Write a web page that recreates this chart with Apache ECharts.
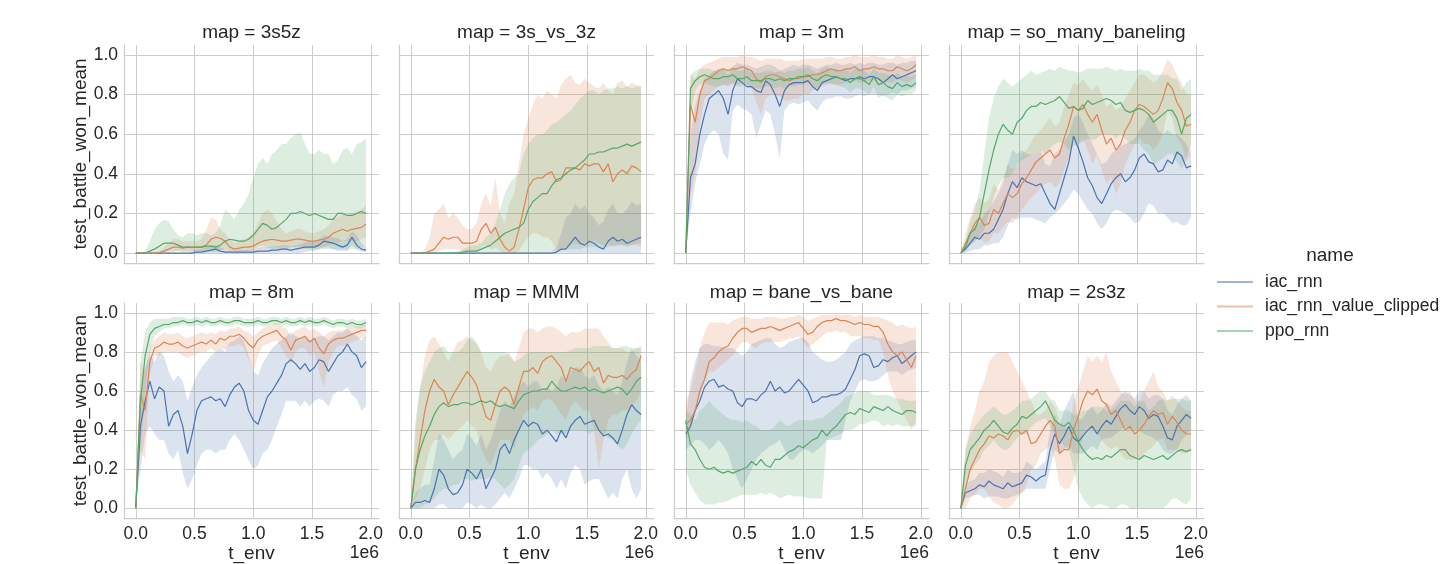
<!DOCTYPE html>
<html>
<head>
<meta charset="utf-8">
<script src="https://cdn.jsdelivr.net/npm/echarts@6/dist/echarts.min.js"></script>
<style>
  html, body { margin: 0; padding: 0; background: #fff; }
  #chart { width: 1455px; height: 564px; }
</style>
</head>
<body>
<div id="chart"></div>
<script>
// t_env in units of 1e6
const T_ENV = [0, 0.04, 0.08, 0.12, 0.16, 0.2, 0.24, 0.28, 0.32, 0.36,
  0.4, 0.44, 0.48, 0.52, 0.56, 0.6, 0.64, 0.68, 0.72, 0.76,
  0.8, 0.84, 0.88, 0.92, 0.96, 1.0, 1.04, 1.08, 1.12, 1.16,
  1.2, 1.24, 1.28, 1.32, 1.36, 1.4, 1.44, 1.48, 1.52, 1.56,
  1.6, 1.64, 1.68, 1.72, 1.76, 1.8, 1.84, 1.88, 1.92, 1.96]
const MAPS = ['3s5z', '3s_vs_3z', '3m', 'so_many_baneling', '8m', 'MMM', 'bane_vs_bane', '2s3z']
const RUNS = ['iac_rnn', 'iac_rnn_value_clipped', 'ppo_rnn']
const X_TICKS = [0, 0.5, 1, 1.5, 2]
const Y_TICKS = [0, 0.2, 0.4, 0.6, 0.8, 1.0]

// ---- map = 3s5z
const iac_3s5z = [0, 0, 0, 0, 0, 0, 0, 0, 0, 0,
  0, 0, 0, 0.005, 0.005, 0.01, 0.015, 0.02, 0.01, 0.005,
  0.005, 0.005, 0.005, 0.005, 0.005, 0.005, 0.01, 0.01, 0.01, 0.015,
  0.015, 0.02, 0.02, 0.015, 0.02, 0.025, 0.03, 0.03, 0.03, 0.04,
  0.06, 0.055, 0.05, 0.04, 0.03, 0.04, 0.08, 0.04, 0.02, 0.015]
const iac_3s5z_lo = [0, 0, 0, 0, 0, 0, 0, 0, 0, 0,
  0, 0, 0, 0, 0, 0, 0, 0, 0, 0,
  0, 0, 0, 0, 0, 0, 0, 0, 0, 0,
  0, 0, 0, 0, 0, 0, 0.005, 0.01, 0.01, 0.02,
  0.03, 0.03, 0.02, 0.01, 0.01, 0.01, 0.04, 0.02, 0.005, 0.005]
const iac_3s5z_hi = [0, 0, 0, 0, 0, 0, 0, 0, 0, 0,
  0, 0, 0.01, 0.02, 0.02, 0.03, 0.04, 0.04, 0.03, 0.02,
  0.02, 0.02, 0.015, 0.015, 0.015, 0.02, 0.025, 0.03, 0.03, 0.035,
  0.035, 0.04, 0.04, 0.035, 0.04, 0.045, 0.055, 0.06, 0.06, 0.07,
  0.09, 0.085, 0.08, 0.075, 0.06, 0.07, 0.11, 0.09, 0.05, 0.03]
const clip_3s5z = [0, 0, 0, 0, 0, 0.003, 0.01, 0.02, 0.03, 0.03,
  0.025, 0.03, 0.028, 0.03, 0.03, 0.04, 0.07, 0.08, 0.075, 0.06,
  0.03, 0.02, 0.025, 0.03, 0.03, 0.035, 0.05, 0.06, 0.065, 0.07,
  0.065, 0.06, 0.06, 0.065, 0.07, 0.07, 0.065, 0.06, 0.06, 0.065,
  0.07, 0.08, 0.1, 0.11, 0.12, 0.11, 0.12, 0.125, 0.13, 0.145]
const clip_3s5z_lo = [0, 0, 0, 0, 0, 0, 0, 0, 0.005, 0.01,
  0.01, 0.01, 0.01, 0.01, 0.01, 0.015, 0.02, 0.02, 0.02, 0.02,
  0.01, 0.005, 0.005, 0.01, 0.01, 0.01, 0.02, 0.025, 0.025, 0.03,
  0.03, 0.03, 0.03, 0.03, 0.03, 0.035, 0.03, 0.03, 0.03, 0.03,
  0.03, 0.04, 0.05, 0.05, 0.06, 0.06, 0.06, 0.06, 0.07, 0.08]
const clip_3s5z_hi = [0, 0, 0, 0, 0, 0.01, 0.03, 0.05, 0.07, 0.07,
  0.06, 0.06, 0.06, 0.06, 0.07, 0.12, 0.18, 0.17, 0.12, 0.1,
  0.07, 0.05, 0.06, 0.07, 0.08, 0.1, 0.15, 0.2, 0.22, 0.2,
  0.16, 0.12, 0.1, 0.11, 0.12, 0.12, 0.11, 0.1, 0.1, 0.11,
  0.12, 0.14, 0.17, 0.18, 0.2, 0.19, 0.2, 0.21, 0.22, 0.24]
const ppo_3s5z = [0, 0, 0, 0.01, 0.02, 0.035, 0.05, 0.05, 0.05, 0.04,
  0.03, 0.03, 0.03, 0.03, 0.03, 0.035, 0.035, 0.03, 0.04, 0.06,
  0.07, 0.065, 0.06, 0.06, 0.07, 0.09, 0.12, 0.15, 0.14, 0.12,
  0.13, 0.15, 0.17, 0.2, 0.2, 0.21, 0.2, 0.19, 0.2, 0.19,
  0.18, 0.17, 0.17, 0.2, 0.2, 0.19, 0.19, 0.2, 0.21, 0.2]
const ppo_3s5z_lo = [0, 0, 0, 0, 0, 0, 0.005, 0.01, 0.01, 0.01,
  0.005, 0.005, 0.005, 0.005, 0.005, 0.005, 0.005, 0.005, 0.01, 0.02,
  0.02, 0.02, 0.01, 0.01, 0.01, 0.02, 0.03, 0.04, 0.03, 0.02,
  0.02, 0.02, 0.02, 0.03, 0.03, 0.03, 0.02, 0.02, 0.02, 0.02,
  0.02, 0.02, 0.02, 0.02, 0.02, 0.02, 0.02, 0.02, 0.03, 0.03]
const ppo_3s5z_hi = [0, 0, 0.01, 0.06, 0.12, 0.15, 0.17, 0.16, 0.12, 0.09,
  0.08, 0.1, 0.1, 0.09, 0.1, 0.1, 0.09, 0.1, 0.14, 0.22,
  0.2, 0.17, 0.22, 0.25, 0.3, 0.38, 0.45, 0.48, 0.45, 0.5,
  0.52, 0.55, 0.55, 0.58, 0.6, 0.61, 0.55, 0.5, 0.5, 0.52,
  0.5, 0.5, 0.45, 0.47, 0.52, 0.53, 0.5, 0.55, 0.56, 0.58]

// ---- map = 3s_vs_3z
const iac_3svs3z = [0, 0, 0, 0, 0, 0, 0, 0, 0, 0,
  0, 0, 0, 0, 0, 0, 0, 0, 0, 0,
  0, 0, 0, 0, 0, 0, 0, 0, 0, 0,
  0, 0.005, 0.02, 0.02, 0.05, 0.08, 0.05, 0.04, 0.06, 0.05,
  0.03, 0.02, 0.06, 0.08, 0.06, 0.07, 0.05, 0.06, 0.07, 0.08]
const iac_3svs3z_lo = [0, 0, 0, 0, 0, 0, 0, 0, 0, 0,
  0, 0, 0, 0, 0, 0, 0, 0, 0, 0,
  0, 0, 0, 0, 0, 0, 0, 0, 0, 0,
  0, 0, 0, 0, 0, 0, 0, 0, 0, 0,
  0, 0, 0, 0, 0, 0, 0, 0, 0, 0]
const iac_3svs3z_hi = [0, 0, 0, 0, 0, 0, 0, 0, 0, 0,
  0, 0, 0, 0, 0, 0, 0, 0, 0, 0,
  0, 0, 0, 0, 0, 0, 0, 0, 0, 0,
  0.01, 0.03, 0.1, 0.18, 0.2, 0.25, 0.22, 0.24, 0.2, 0.18,
  0.14, 0.16, 0.22, 0.25, 0.2, 0.2, 0.22, 0.26, 0.24, 0.25]
const clip_3svs3z = [0, 0, 0, 0, 0.01, 0.02, 0.05, 0.08, 0.07, 0.08,
  0.08, 0.05, 0.05, 0.05, 0.06, 0.12, 0.15, 0.1, 0.13, 0.07,
  0.03, 0.01, 0.03, 0.12, 0.22, 0.33, 0.37, 0.38, 0.38, 0.4,
  0.41, 0.36, 0.37, 0.43, 0.43, 0.43, 0.42, 0.45, 0.44, 0.45,
  0.45, 0.41, 0.45, 0.36, 0.4, 0.42, 0.4, 0.44, 0.43, 0.41]
const clip_3svs3z_lo = [0, 0, 0, 0, 0, 0, 0.01, 0.02, 0.02, 0.02,
  0.02, 0.01, 0.01, 0.01, 0.01, 0.03, 0.04, 0.02, 0.03, 0.01,
  0, 0, 0, 0.01, 0.05, 0.08, 0.1, 0.1, 0.08, 0.08,
  0.06, 0.02, 0.02, 0.03, 0.04, 0.05, 0.04, 0.05, 0.05, 0.06,
  0.05, 0.04, 0.05, 0.03, 0.04, 0.04, 0.03, 0.04, 0.04, 0.03]
const clip_3svs3z_hi = [0, 0, 0, 0.02, 0.08, 0.2, 0.22, 0.25, 0.18, 0.2,
  0.18, 0.14, 0.12, 0.12, 0.15, 0.25, 0.3, 0.24, 0.38, 0.2,
  0.15, 0.25, 0.3, 0.45, 0.6, 0.68, 0.75, 0.8, 0.78, 0.82,
  0.8, 0.78, 0.85, 0.88, 0.9, 0.86, 0.85, 0.88, 0.86, 0.84,
  0.83, 0.86, 0.82, 0.8, 0.86, 0.87, 0.84, 0.86, 0.85, 0.84]
const ppo_3svs3z = [0, 0, 0, 0, 0, 0, 0, 0, 0, 0,
  0, 0.005, 0.01, 0.01, 0.01, 0.02, 0.03, 0.04, 0.06, 0.08,
  0.1, 0.11, 0.12, 0.13, 0.15, 0.22, 0.26, 0.28, 0.3, 0.3,
  0.34, 0.37, 0.38, 0.4, 0.42, 0.43, 0.45, 0.47, 0.5, 0.5,
  0.51, 0.51, 0.52, 0.53, 0.53, 0.54, 0.55, 0.54, 0.55, 0.56]
const ppo_3svs3z_lo = [0, 0, 0, 0, 0, 0, 0, 0, 0, 0,
  0, 0, 0, 0, 0, 0, 0, 0, 0, 0,
  0, 0, 0, 0, 0, 0, 0, 0, 0, 0,
  0.01, 0.01, 0.02, 0.02, 0.02, 0.02, 0.02, 0.03, 0.03, 0.03,
  0.03, 0.03, 0.03, 0.04, 0.04, 0.04, 0.04, 0.04, 0.05, 0.05]
const ppo_3svs3z_hi = [0, 0, 0, 0, 0, 0, 0, 0, 0, 0.005,
  0.01, 0.02, 0.03, 0.04, 0.04, 0.05, 0.08, 0.1, 0.15, 0.22,
  0.3, 0.35, 0.38, 0.4, 0.5, 0.55, 0.58, 0.6, 0.6, 0.62,
  0.65, 0.66, 0.68, 0.7, 0.72, 0.75, 0.78, 0.8, 0.82, 0.82,
  0.8, 0.82, 0.83, 0.83, 0.84, 0.83, 0.84, 0.83, 0.84, 0.84]

// ---- map = 3m
const iac_3m = [0, 0.38, 0.45, 0.6, 0.7, 0.78, 0.8, 0.82, 0.78, 0.7,
  0.82, 0.88, 0.86, 0.84, 0.84, 0.82, 0.81, 0.87, 0.85, 0.8,
  0.74, 0.82, 0.85, 0.86, 0.86, 0.86, 0.87, 0.84, 0.82, 0.86,
  0.87, 0.88, 0.89, 0.88, 0.87, 0.88, 0.88, 0.89, 0.88, 0.89,
  0.89, 0.88, 0.86, 0.88, 0.9, 0.88, 0.89, 0.9, 0.91, 0.92]
const iac_3m_lo = [0, 0.2, 0.35, 0.45, 0.55, 0.6, 0.62, 0.6, 0.5, 0.47,
  0.72, 0.75, 0.73, 0.72, 0.7, 0.58, 0.65, 0.72, 0.7, 0.6,
  0.48, 0.72, 0.75, 0.76, 0.75, 0.76, 0.77, 0.74, 0.72, 0.76,
  0.78, 0.78, 0.79, 0.79, 0.78, 0.78, 0.79, 0.8, 0.79, 0.8,
  0.8, 0.8, 0.79, 0.8, 0.81, 0.8, 0.82, 0.82, 0.83, 0.84]
const iac_3m_hi = [0, 0.6, 0.75, 0.82, 0.88, 0.9, 0.92, 0.93, 0.93, 0.9,
  0.94, 0.96, 0.95, 0.95, 0.94, 0.93, 0.94, 0.95, 0.95, 0.94,
  0.92, 0.93, 0.94, 0.95, 0.94, 0.95, 0.95, 0.94, 0.93, 0.94,
  0.95, 0.95, 0.96, 0.95, 0.95, 0.96, 0.95, 0.96, 0.95, 0.96,
  0.96, 0.95, 0.95, 0.96, 0.96, 0.95, 0.96, 0.96, 0.97, 0.97]
const clip_3m = [0, 0.75, 0.66, 0.8, 0.87, 0.88, 0.9, 0.92, 0.93, 0.92,
  0.93, 0.93, 0.94, 0.93, 0.92, 0.88, 0.86, 0.89, 0.9, 0.9,
  0.89, 0.88, 0.87, 0.88, 0.88, 0.89, 0.89, 0.9, 0.9, 0.91,
  0.92, 0.93, 0.92, 0.92, 0.93, 0.93, 0.94, 0.92, 0.93, 0.93,
  0.94, 0.93, 0.93, 0.92, 0.92, 0.94, 0.93, 0.92, 0.93, 0.95]
const clip_3m_lo = [0, 0.3, 0.4, 0.65, 0.78, 0.8, 0.82, 0.84, 0.85, 0.84,
  0.85, 0.85, 0.86, 0.85, 0.83, 0.76, 0.7, 0.78, 0.8, 0.8,
  0.79, 0.77, 0.77, 0.78, 0.78, 0.8, 0.8, 0.82, 0.83, 0.84,
  0.85, 0.86, 0.85, 0.85, 0.86, 0.86, 0.87, 0.86, 0.86, 0.87,
  0.87, 0.87, 0.86, 0.86, 0.86, 0.88, 0.87, 0.86, 0.87, 0.89]
const clip_3m_hi = [0, 0.9, 0.88, 0.93, 0.95, 0.96, 0.97, 0.98, 0.99, 0.99,
  0.99, 0.99, 1.0, 0.99, 0.99, 0.98, 0.97, 0.98, 0.98, 0.98,
  0.98, 0.97, 0.97, 0.97, 0.97, 0.98, 0.98, 0.98, 0.98, 0.98,
  0.99, 0.99, 0.98, 0.98, 0.99, 0.99, 1.0, 0.99, 0.99, 0.99,
  1.0, 0.99, 0.99, 0.98, 0.98, 1.0, 0.99, 0.98, 0.99, 1.0]
const ppo_3m = [0, 0.83, 0.87, 0.89, 0.9, 0.89, 0.88, 0.88, 0.89, 0.89,
  0.9, 0.88, 0.88, 0.89, 0.87, 0.87, 0.87, 0.88, 0.88, 0.87,
  0.88, 0.87, 0.88, 0.88, 0.89, 0.89, 0.9, 0.88, 0.87, 0.89,
  0.9, 0.89, 0.89, 0.88, 0.88, 0.86, 0.88, 0.88, 0.87, 0.85,
  0.89, 0.85, 0.86, 0.84, 0.83, 0.86, 0.84, 0.85, 0.84, 0.86]
const ppo_3m_lo = [0, 0.7, 0.82, 0.85, 0.86, 0.85, 0.84, 0.84, 0.85, 0.85,
  0.86, 0.84, 0.84, 0.85, 0.83, 0.83, 0.83, 0.84, 0.84, 0.83,
  0.84, 0.83, 0.84, 0.84, 0.85, 0.85, 0.86, 0.84, 0.83, 0.85,
  0.86, 0.85, 0.85, 0.84, 0.83, 0.81, 0.83, 0.83, 0.82, 0.8,
  0.84, 0.78, 0.8, 0.78, 0.77, 0.8, 0.79, 0.8, 0.8, 0.82]
const ppo_3m_hi = [0, 0.9, 0.92, 0.93, 0.93, 0.93, 0.92, 0.92, 0.93, 0.93,
  0.94, 0.92, 0.92, 0.93, 0.91, 0.91, 0.91, 0.92, 0.92, 0.91,
  0.92, 0.91, 0.92, 0.92, 0.93, 0.93, 0.94, 0.92, 0.91, 0.93,
  0.94, 0.93, 0.93, 0.92, 0.93, 0.91, 0.93, 0.93, 0.92, 0.9,
  0.93, 0.91, 0.91, 0.9, 0.89, 0.91, 0.89, 0.9, 0.89, 0.9]

// ---- map = so_many_baneling
const iac_smb = [0, 0.02, 0.05, 0.08, 0.07, 0.1, 0.1, 0.12, 0.17, 0.22,
  0.3, 0.36, 0.33, 0.38, 0.36, 0.35, 0.34, 0.35, 0.3, 0.25,
  0.22, 0.3, 0.38, 0.46, 0.59, 0.53, 0.46, 0.38, 0.34, 0.28,
  0.25, 0.3, 0.35, 0.38, 0.4, 0.36, 0.38, 0.42, 0.48, 0.5,
  0.46, 0.45, 0.41, 0.42, 0.47, 0.45, 0.51, 0.49, 0.43, 0.44]
const iac_smb_lo = [0, 0, 0.01, 0.02, 0.02, 0.04, 0.04, 0.05, 0.05, 0.08,
  0.14, 0.18, 0.17, 0.18, 0.18, 0.18, 0.17, 0.16, 0.15, 0.18,
  0.2, 0.22, 0.25, 0.28, 0.32, 0.3, 0.26, 0.22, 0.2, 0.15,
  0.12, 0.15, 0.2, 0.22, 0.21, 0.2, 0.18, 0.15, 0.16, 0.2,
  0.25, 0.24, 0.2, 0.2, 0.18, 0.15, 0.16, 0.14, 0.14, 0.18]
const iac_smb_hi = [0, 0.05, 0.1, 0.14, 0.15, 0.2, 0.22, 0.26, 0.3, 0.35,
  0.45, 0.52, 0.5, 0.52, 0.5, 0.5, 0.5, 0.52, 0.45, 0.44,
  0.5, 0.52, 0.56, 0.6, 0.68, 0.7, 0.66, 0.6, 0.55, 0.5,
  0.45, 0.46, 0.5, 0.52, 0.54, 0.55, 0.56, 0.58, 0.62, 0.65,
  0.7, 0.68, 0.62, 0.6, 0.62, 0.6, 0.6, 0.58, 0.55, 0.5]
const clip_smb = [0, 0.05, 0.1, 0.15, 0.18, 0.14, 0.15, 0.22, 0.2, 0.25,
  0.3, 0.28, 0.3, 0.35, 0.38, 0.42, 0.46, 0.48, 0.5, 0.52,
  0.48, 0.5, 0.58, 0.65, 0.74, 0.72, 0.75, 0.7, 0.66, 0.7,
  0.62, 0.55, 0.58, 0.52, 0.55, 0.62, 0.66, 0.72, 0.75, 0.74,
  0.72, 0.7, 0.72, 0.78, 0.86, 0.83, 0.76, 0.72, 0.64, 0.65]
const clip_smb_lo = [0, 0.02, 0.04, 0.06, 0.08, 0.05, 0.06, 0.1, 0.1, 0.13,
  0.16, 0.15, 0.18, 0.22, 0.25, 0.28, 0.3, 0.33, 0.35, 0.36,
  0.33, 0.35, 0.42, 0.48, 0.58, 0.55, 0.58, 0.52, 0.45, 0.5,
  0.42, 0.35, 0.38, 0.3, 0.35, 0.45, 0.5, 0.55, 0.58, 0.55,
  0.55, 0.52, 0.55, 0.6, 0.72, 0.68, 0.58, 0.55, 0.46, 0.5]
const clip_smb_hi = [0, 0.1, 0.18, 0.25, 0.28, 0.25, 0.27, 0.35, 0.32, 0.38,
  0.45, 0.42, 0.44, 0.5, 0.52, 0.56, 0.6, 0.62, 0.65, 0.68,
  0.64, 0.66, 0.74, 0.8, 0.86, 0.85, 0.88, 0.84, 0.82, 0.85,
  0.8, 0.74, 0.76, 0.72, 0.74, 0.78, 0.82, 0.86, 0.9, 0.9,
  0.88, 0.86, 0.88, 0.92, 0.98, 0.95, 0.9, 0.86, 0.8, 0.8]
const ppo_smb = [0, 0.03, 0.1, 0.12, 0.18, 0.3, 0.42, 0.52, 0.6, 0.65,
  0.62, 0.6, 0.66, 0.68, 0.72, 0.74, 0.74, 0.76, 0.75, 0.76,
  0.77, 0.79, 0.76, 0.73, 0.74, 0.72, 0.73, 0.77, 0.75, 0.76,
  0.77, 0.78, 0.77, 0.75, 0.76, 0.72, 0.71, 0.72, 0.73, 0.72,
  0.7, 0.66, 0.68, 0.7, 0.72, 0.72, 0.68, 0.6, 0.68, 0.7]
const ppo_smb_lo = [0, 0.01, 0.04, 0.06, 0.08, 0.12, 0.2, 0.28, 0.34, 0.38,
  0.38, 0.4, 0.45, 0.47, 0.48, 0.5, 0.5, 0.52, 0.5, 0.53,
  0.55, 0.56, 0.55, 0.52, 0.54, 0.55, 0.56, 0.58, 0.57, 0.58,
  0.6, 0.6, 0.6, 0.58, 0.6, 0.58, 0.55, 0.55, 0.55, 0.52,
  0.5, 0.45, 0.46, 0.48, 0.5, 0.5, 0.46, 0.42, 0.48, 0.55]
const ppo_smb_hi = [0, 0.05, 0.16, 0.22, 0.32, 0.5, 0.68, 0.78, 0.84, 0.88,
  0.86, 0.84, 0.86, 0.88, 0.9, 0.92, 0.9, 0.91, 0.92, 0.93,
  0.92, 0.94, 0.93, 0.92, 0.92, 0.91, 0.92, 0.93, 0.93, 0.93,
  0.93, 0.94, 0.93, 0.92, 0.93, 0.92, 0.92, 0.92, 0.93, 0.92,
  0.92, 0.9, 0.9, 0.9, 0.9, 0.88, 0.88, 0.82, 0.86, 0.88]

// ---- map = 8m
const iac_8m = [0, 0.42, 0.55, 0.65, 0.56, 0.62, 0.6, 0.42, 0.48, 0.5,
  0.42, 0.28, 0.38, 0.5, 0.55, 0.56, 0.57, 0.55, 0.56, 0.52,
  0.58, 0.62, 0.64, 0.6, 0.5, 0.45, 0.43, 0.5, 0.57, 0.6,
  0.64, 0.68, 0.74, 0.76, 0.74, 0.71, 0.74, 0.7, 0.72, 0.76,
  0.75, 0.7, 0.74, 0.78, 0.8, 0.84, 0.8, 0.78, 0.72, 0.75]
const iac_8m_lo = [0, 0.2, 0.38, 0.42, 0.38, 0.35, 0.35, 0.28, 0.25, 0.3,
  0.18, 0.1, 0.15, 0.22, 0.28, 0.3, 0.3, 0.28, 0.3, 0.3,
  0.35, 0.38, 0.35, 0.3, 0.25, 0.2, 0.22, 0.28, 0.3, 0.35,
  0.42, 0.48, 0.55, 0.55, 0.55, 0.52, 0.55, 0.52, 0.55, 0.56,
  0.55, 0.52, 0.58, 0.6, 0.6, 0.62, 0.58, 0.56, 0.5, 0.52]
const iac_8m_hi = [0, 0.6, 0.72, 0.78, 0.75, 0.8, 0.78, 0.7, 0.65, 0.68,
  0.65, 0.55, 0.62, 0.68, 0.72, 0.75, 0.78, 0.8, 0.82, 0.8,
  0.85, 0.86, 0.88, 0.86, 0.78, 0.7, 0.68, 0.74, 0.78, 0.82,
  0.84, 0.86, 0.88, 0.9, 0.88, 0.87, 0.88, 0.86, 0.87, 0.88,
  0.88, 0.86, 0.88, 0.9, 0.9, 0.92, 0.9, 0.88, 0.86, 0.88]
const clip_8m = [0, 0.58, 0.5, 0.75, 0.82, 0.83, 0.85, 0.84, 0.84, 0.85,
  0.83, 0.82, 0.83, 0.84, 0.85, 0.84, 0.86, 0.84, 0.87, 0.86,
  0.88, 0.88, 0.89, 0.87, 0.84, 0.82, 0.86, 0.88, 0.89, 0.9,
  0.91, 0.88, 0.86, 0.81, 0.86, 0.87, 0.88, 0.85, 0.87, 0.82,
  0.79, 0.84, 0.86, 0.87, 0.87, 0.88, 0.89, 0.9, 0.91, 0.91]
const clip_8m_lo = [0, 0.3, 0.25, 0.68, 0.78, 0.78, 0.8, 0.8, 0.8, 0.8,
  0.78, 0.77, 0.78, 0.79, 0.8, 0.8, 0.82, 0.8, 0.82, 0.81,
  0.83, 0.83, 0.84, 0.82, 0.76, 0.7, 0.78, 0.83, 0.84, 0.85,
  0.86, 0.82, 0.78, 0.74, 0.8, 0.82, 0.82, 0.78, 0.8, 0.7,
  0.62, 0.75, 0.8, 0.83, 0.83, 0.84, 0.85, 0.86, 0.87, 0.87]
const clip_8m_hi = [0, 0.75, 0.7, 0.82, 0.86, 0.88, 0.9, 0.89, 0.89, 0.9,
  0.88, 0.87, 0.88, 0.89, 0.9, 0.89, 0.9, 0.89, 0.91, 0.9,
  0.92, 0.92, 0.93, 0.91, 0.9, 0.88, 0.9, 0.92, 0.93, 0.94,
  0.95, 0.93, 0.92, 0.88, 0.91, 0.92, 0.93, 0.91, 0.92, 0.9,
  0.88, 0.9, 0.91, 0.91, 0.91, 0.92, 0.93, 0.93, 0.94, 0.94]
const ppo_8m = [0, 0.55, 0.78, 0.89, 0.92, 0.93, 0.94, 0.94, 0.95, 0.95,
  0.96, 0.95, 0.95, 0.96, 0.95, 0.96, 0.95, 0.95, 0.96, 0.95,
  0.95, 0.96, 0.96, 0.95, 0.95, 0.95, 0.96, 0.95, 0.95, 0.96,
  0.96, 0.95, 0.96, 0.95, 0.95, 0.96, 0.95, 0.96, 0.95, 0.95,
  0.96, 0.95, 0.94, 0.95, 0.95, 0.94, 0.95, 0.94, 0.94, 0.95]
const ppo_8m_lo = [0, 0.3, 0.6, 0.8, 0.88, 0.9, 0.92, 0.92, 0.93, 0.93,
  0.94, 0.93, 0.93, 0.94, 0.93, 0.94, 0.93, 0.93, 0.94, 0.93,
  0.93, 0.94, 0.94, 0.93, 0.93, 0.93, 0.94, 0.93, 0.93, 0.94,
  0.94, 0.93, 0.94, 0.93, 0.93, 0.94, 0.93, 0.94, 0.93, 0.93,
  0.94, 0.93, 0.92, 0.93, 0.93, 0.92, 0.93, 0.92, 0.92, 0.93]
const ppo_8m_hi = [0, 0.75, 0.9, 0.95, 0.97, 0.97, 0.97, 0.97, 0.98, 0.98,
  0.98, 0.97, 0.97, 0.98, 0.97, 0.98, 0.97, 0.97, 0.98, 0.97,
  0.97, 0.98, 0.98, 0.97, 0.97, 0.97, 0.98, 0.97, 0.97, 0.98,
  0.98, 0.97, 0.98, 0.97, 0.97, 0.98, 0.97, 0.98, 0.97, 0.97,
  0.98, 0.97, 0.96, 0.97, 0.97, 0.96, 0.97, 0.96, 0.96, 0.97]

// ---- map = MMM
const iac_mmm = [0, 0.03, 0.03, 0.04, 0.03, 0.1, 0.2, 0.17, 0.1, 0.07,
  0.08, 0.12, 0.2, 0.18, 0.15, 0.2, 0.1, 0.15, 0.2, 0.3,
  0.33, 0.28, 0.35, 0.4, 0.45, 0.42, 0.44, 0.43, 0.38, 0.4,
  0.37, 0.34, 0.4, 0.36, 0.42, 0.45, 0.47, 0.43, 0.44, 0.45,
  0.4, 0.37, 0.38, 0.36, 0.33, 0.4, 0.48, 0.53, 0.5, 0.48]
const iac_mmm_lo = [0, 0, 0, 0, 0, 0, 0.02, 0.02, 0, 0,
  0, 0, 0.03, 0.02, 0, 0.02, 0, 0, 0.02, 0.05,
  0.08, 0.05, 0.1, 0.15, 0.22, 0.22, 0.2, 0.2, 0.15, 0.18,
  0.15, 0.1, 0.15, 0.1, 0.18, 0.22, 0.2, 0.12, 0.14, 0.15,
  0.15, 0.1, 0.05, 0.08, 0.05, 0.15, 0.2, 0.1, 0.05, 0.1]
const iac_mmm_hi = [0, 0.08, 0.1, 0.12, 0.12, 0.25, 0.38, 0.35, 0.3, 0.25,
  0.28, 0.3, 0.38, 0.36, 0.32, 0.38, 0.3, 0.35, 0.42, 0.5,
  0.55, 0.52, 0.58, 0.62, 0.65, 0.62, 0.65, 0.65, 0.6, 0.62,
  0.6, 0.62, 0.68, 0.65, 0.7, 0.72, 0.72, 0.68, 0.66, 0.68,
  0.63, 0.6, 0.62, 0.6, 0.58, 0.65, 0.75, 0.82, 0.78, 0.75]
const clip_mmm = [0, 0.2, 0.35, 0.5, 0.6, 0.66, 0.62, 0.6, 0.53, 0.58,
  0.62, 0.66, 0.7, 0.67, 0.63, 0.55, 0.47, 0.45, 0.53, 0.6,
  0.62, 0.6, 0.53, 0.62, 0.7, 0.7, 0.72, 0.69, 0.75, 0.77,
  0.78, 0.75, 0.72, 0.65, 0.72, 0.71, 0.7, 0.73, 0.75, 0.7,
  0.72, 0.64, 0.68, 0.67, 0.67, 0.68, 0.66, 0.69, 0.71, 0.78]
const clip_mmm_lo = [0, 0.05, 0.1, 0.2, 0.3, 0.35, 0.35, 0.38, 0.35, 0.38,
  0.4, 0.42, 0.45, 0.42, 0.4, 0.3, 0.25, 0.22, 0.28, 0.35,
  0.35, 0.35, 0.3, 0.4, 0.48, 0.5, 0.52, 0.5, 0.55, 0.56,
  0.55, 0.52, 0.48, 0.45, 0.52, 0.55, 0.52, 0.5, 0.5, 0.4,
  0.2, 0.35, 0.45, 0.48, 0.48, 0.5, 0.5, 0.52, 0.55, 0.6]
const clip_mmm_hi = [0, 0.4, 0.62, 0.78, 0.86, 0.88, 0.84, 0.8, 0.75, 0.8,
  0.85, 0.86, 0.88, 0.86, 0.84, 0.8, 0.72, 0.7, 0.75, 0.78,
  0.78, 0.8, 0.75, 0.82, 0.9, 0.92, 0.92, 0.9, 0.92, 0.93,
  0.93, 0.92, 0.9, 0.88, 0.9, 0.9, 0.9, 0.92, 0.92, 0.92,
  0.92, 0.88, 0.85, 0.82, 0.82, 0.82, 0.8, 0.8, 0.82, 0.83]
const ppo_mmm = [0, 0.2, 0.3, 0.37, 0.42, 0.48, 0.52, 0.54, 0.52, 0.53,
  0.53, 0.54, 0.54, 0.53, 0.54, 0.55, 0.54, 0.55, 0.53, 0.52,
  0.53, 0.52, 0.51, 0.55, 0.58, 0.59, 0.6, 0.6, 0.61, 0.61,
  0.65, 0.62, 0.6, 0.6, 0.61, 0.62, 0.61, 0.62, 0.6, 0.61,
  0.6, 0.59, 0.6, 0.61, 0.62, 0.61, 0.58, 0.61, 0.65, 0.67]
const ppo_mmm_lo = [0, 0, 0, 0.02, 0.03, 0.05, 0.08, 0.1, 0.1, 0.12,
  0.12, 0.15, 0.15, 0.14, 0.15, 0.15, 0.15, 0.16, 0.15, 0.12,
  0.1, 0.12, 0.15, 0.22, 0.28, 0.3, 0.32, 0.35, 0.36, 0.38,
  0.4, 0.38, 0.38, 0.38, 0.4, 0.4, 0.4, 0.4, 0.38, 0.4,
  0.4, 0.38, 0.36, 0.35, 0.32, 0.3, 0.33, 0.38, 0.42, 0.45]
const ppo_mmm_hi = [0, 0.45, 0.62, 0.7, 0.75, 0.8, 0.82, 0.83, 0.8, 0.8,
  0.8, 0.82, 0.86, 0.88, 0.85, 0.8, 0.8, 0.8, 0.8, 0.8,
  0.8, 0.78, 0.75, 0.76, 0.78, 0.8, 0.8, 0.8, 0.8, 0.8,
  0.8, 0.8, 0.8, 0.8, 0.81, 0.82, 0.82, 0.82, 0.82, 0.83,
  0.83, 0.83, 0.83, 0.82, 0.82, 0.83, 0.83, 0.82, 0.82, 0.82]

// ---- map = bane_vs_bane
const iac_bvb = [0.38, 0.42, 0.5, 0.55, 0.62, 0.65, 0.66, 0.62, 0.63, 0.61,
  0.6, 0.54, 0.52, 0.56, 0.56, 0.55, 0.58, 0.6, 0.65, 0.6,
  0.62, 0.59, 0.6, 0.63, 0.66, 0.63, 0.6, 0.54, 0.55, 0.57,
  0.57, 0.58, 0.58, 0.59, 0.61, 0.66, 0.71, 0.78, 0.79, 0.78,
  0.72, 0.73, 0.76, 0.75, 0.77, 0.78, 0.74, 0.76, 0.78, 0.8]
const iac_bvb_lo = [0.3, 0.32, 0.35, 0.35, 0.33, 0.3, 0.32, 0.35, 0.32, 0.28,
  0.2, 0.15, 0.1, 0.15, 0.2, 0.25, 0.28, 0.3, 0.32, 0.33,
  0.35, 0.3, 0.25, 0.25, 0.28, 0.3, 0.3, 0.28, 0.3, 0.32,
  0.35, 0.35, 0.35, 0.35, 0.45, 0.55, 0.6, 0.65, 0.66, 0.65,
  0.65, 0.66, 0.68, 0.7, 0.7, 0.7, 0.68, 0.7, 0.71, 0.72]
const iac_bvb_hi = [0.45, 0.65, 0.75, 0.82, 0.84, 0.84, 0.83, 0.83, 0.82, 0.82,
  0.82, 0.8, 0.78, 0.8, 0.84, 0.85, 0.86, 0.87, 0.87, 0.84,
  0.82, 0.83, 0.85, 0.86, 0.87, 0.87, 0.85, 0.8, 0.78, 0.76,
  0.75, 0.75, 0.76, 0.78, 0.8, 0.84, 0.86, 0.87, 0.88, 0.88,
  0.88, 0.87, 0.87, 0.86, 0.85, 0.84, 0.84, 0.85, 0.86, 0.86]
const clip_bvb = [0.43, 0.45, 0.5, 0.6, 0.66, 0.75, 0.77, 0.8, 0.82, 0.83,
  0.87, 0.9, 0.92, 0.92, 0.9, 0.91, 0.92, 0.92, 0.93, 0.92,
  0.91, 0.92, 0.93, 0.94, 0.95, 0.92, 0.89, 0.9, 0.93, 0.95,
  0.96, 0.96, 0.97, 0.96, 0.96, 0.95, 0.94, 0.95, 0.94, 0.94,
  0.93, 0.93, 0.9, 0.84, 0.8, 0.78, 0.8, 0.76, 0.72, 0.78]
const clip_bvb_lo = [0.35, 0.4, 0.5, 0.58, 0.65, 0.7, 0.7, 0.72, 0.74, 0.76,
  0.78, 0.82, 0.85, 0.85, 0.83, 0.82, 0.84, 0.85, 0.85, 0.85,
  0.85, 0.86, 0.87, 0.87, 0.88, 0.85, 0.82, 0.84, 0.86, 0.88,
  0.9, 0.9, 0.91, 0.9, 0.9, 0.88, 0.88, 0.88, 0.87, 0.87,
  0.86, 0.86, 0.8, 0.68, 0.6, 0.55, 0.5, 0.45, 0.4, 0.45]
const clip_bvb_hi = [0.55, 0.6, 0.7, 0.82, 0.9, 0.95, 0.95, 0.95, 0.95, 0.94,
  0.96, 0.97, 0.98, 0.98, 0.97, 0.97, 0.97, 0.98, 0.98, 0.98,
  0.97, 0.97, 0.98, 0.98, 0.99, 0.98, 0.96, 0.97, 0.98, 0.99,
  0.99, 0.99, 0.99, 0.99, 0.99, 0.99, 0.98, 0.99, 0.98, 0.98,
  0.98, 0.98, 0.97, 0.96, 0.95, 0.93, 0.94, 0.93, 0.92, 0.93]
const ppo_bvb = [0.45, 0.33, 0.3, 0.25, 0.21, 0.2, 0.21, 0.19, 0.18, 0.19,
  0.18, 0.19, 0.2, 0.21, 0.24, 0.22, 0.25, 0.22, 0.21, 0.25,
  0.25, 0.27, 0.29, 0.3, 0.32, 0.31, 0.33, 0.35, 0.36, 0.4,
  0.37, 0.4, 0.42, 0.45, 0.48, 0.49, 0.48, 0.51, 0.5, 0.49,
  0.52, 0.51, 0.5, 0.52, 0.5, 0.49, 0.48, 0.5, 0.5, 0.49]
const ppo_bvb_lo = [0.2, 0.12, 0.08, 0.04, 0.02, 0.02, 0.02, 0.03, 0.03, 0.04,
  0.05, 0.06, 0.07, 0.07, 0.07, 0.07, 0.08, 0.07, 0.08, 0.07,
  0.05, 0.06, 0.07, 0.06, 0.06, 0.06, 0.05, 0.05, 0.05, 0.05,
  0.35, 0.36, 0.37, 0.38, 0.4, 0.4, 0.41, 0.43, 0.43, 0.44,
  0.45, 0.44, 0.42, 0.43, 0.42, 0.43, 0.42, 0.42, 0.42, 0.42]
const ppo_bvb_hi = [0.5, 0.48, 0.45, 0.5, 0.52, 0.55, 0.52, 0.5, 0.48, 0.46,
  0.45, 0.45, 0.44, 0.45, 0.43, 0.42, 0.4, 0.4, 0.4, 0.42,
  0.45, 0.43, 0.42, 0.44, 0.45, 0.45, 0.45, 0.45, 0.46, 0.46,
  0.48, 0.5, 0.52, 0.54, 0.57, 0.58, 0.59, 0.6, 0.6, 0.6,
  0.58, 0.58, 0.58, 0.58, 0.57, 0.56, 0.56, 0.55, 0.55, 0.55]

// ---- map = 2s3z
const iac_2s3z = [0, 0.08, 0.09, 0.1, 0.12, 0.11, 0.14, 0.12, 0.11, 0.1,
  0.13, 0.11, 0.12, 0.13, 0.17, 0.16, 0.14, 0.16, 0.17, 0.3,
  0.38, 0.33, 0.37, 0.42, 0.36, 0.34, 0.37, 0.4, 0.42, 0.38,
  0.42, 0.45, 0.43, 0.47, 0.51, 0.53, 0.5, 0.48, 0.52, 0.5,
  0.46, 0.48, 0.47, 0.42, 0.36, 0.35, 0.42, 0.45, 0.48, 0.46]
const iac_2s3z_lo = [0, 0.05, 0.06, 0.07, 0.07, 0.05, 0.06, 0.06, 0.06, 0.05,
  0.05, 0.06, 0.07, 0.08, 0.1, 0.1, 0.1, 0.1, 0.1, 0.2,
  0.3, 0.28, 0.3, 0.32, 0.28, 0.28, 0.28, 0.3, 0.32, 0.3,
  0.35, 0.36, 0.36, 0.38, 0.4, 0.42, 0.4, 0.4, 0.4, 0.38,
  0.37, 0.36, 0.34, 0.3, 0.28, 0.28, 0.3, 0.35, 0.38, 0.4]
const iac_2s3z_hi = [0, 0.12, 0.14, 0.15, 0.18, 0.18, 0.2, 0.19, 0.18, 0.16,
  0.2, 0.18, 0.18, 0.19, 0.24, 0.22, 0.2, 0.22, 0.24, 0.4,
  0.48, 0.42, 0.5, 0.55, 0.6, 0.45, 0.46, 0.5, 0.52, 0.48,
  0.5, 0.54, 0.52, 0.55, 0.58, 0.6, 0.58, 0.56, 0.6, 0.6,
  0.56, 0.58, 0.58, 0.56, 0.5, 0.48, 0.53, 0.56, 0.58, 0.55]
const clip_2s3z = [0, 0.1, 0.2, 0.25, 0.3, 0.33, 0.37, 0.36, 0.38, 0.37,
  0.35, 0.39, 0.4, 0.38, 0.4, 0.33, 0.34, 0.38, 0.42, 0.45,
  0.42, 0.28, 0.3, 0.3, 0.4, 0.47, 0.55, 0.6, 0.58, 0.61,
  0.55, 0.53, 0.48, 0.5, 0.45, 0.4, 0.42, 0.38, 0.4, 0.43,
  0.47, 0.5, 0.48, 0.49, 0.43, 0.47, 0.44, 0.4, 0.38, 0.38]
const clip_2s3z_lo = [0, 0, 0.05, 0.07, 0.1, 0.1, 0.06, 0.03, 0.02, 0,
  0, 0.02, 0.05, 0.08, 0.12, 0.2, 0.22, 0.28, 0.3, 0.32,
  0.25, 0.12, 0.1, 0.1, 0.15, 0.25, 0.38, 0.42, 0.4, 0.38,
  0.35, 0.32, 0.3, 0.32, 0.28, 0.25, 0.25, 0.25, 0.25, 0.28,
  0.3, 0.32, 0.35, 0.36, 0.3, 0.3, 0.3, 0.28, 0.28, 0.3]
const clip_2s3z_hi = [0, 0.3, 0.42, 0.5, 0.6, 0.65, 0.75, 0.78, 0.8, 0.8,
  0.8, 0.75, 0.7, 0.65, 0.6, 0.55, 0.48, 0.48, 0.5, 0.55,
  0.52, 0.45, 0.42, 0.4, 0.55, 0.62, 0.7, 0.78, 0.75, 0.78,
  0.75, 0.8, 0.7, 0.65, 0.6, 0.58, 0.6, 0.55, 0.55, 0.6,
  0.65, 0.7, 0.62, 0.6, 0.55, 0.58, 0.55, 0.52, 0.5, 0.5]
const ppo_2s3z = [0, 0.22, 0.3, 0.33, 0.36, 0.4, 0.42, 0.45, 0.42, 0.39,
  0.38, 0.41, 0.43, 0.47, 0.46, 0.48, 0.5, 0.52, 0.55, 0.5,
  0.45, 0.43, 0.42, 0.44, 0.4, 0.34, 0.3, 0.27, 0.25, 0.26,
  0.25, 0.27, 0.26, 0.28, 0.3, 0.3, 0.27, 0.26, 0.25, 0.27,
  0.26, 0.25, 0.26, 0.27, 0.25, 0.27, 0.29, 0.3, 0.29, 0.3]
const ppo_2s3z_lo = [0, 0.1, 0.18, 0.22, 0.25, 0.3, 0.32, 0.35, 0.32, 0.3,
  0.3, 0.33, 0.36, 0.38, 0.38, 0.42, 0.44, 0.45, 0.46, 0.42,
  0.38, 0.35, 0.32, 0.3, 0.2, 0.1, 0.05, 0.02, 0, 0.02,
  0.02, 0.01, 0, 0, 0.02, 0.02, 0, 0, 0, 0,
  0, 0, 0, 0, 0.02, 0.05, 0.05, 0.03, 0.02, 0.05]
const ppo_2s3z_hi = [0, 0.3, 0.38, 0.42, 0.45, 0.48, 0.5, 0.52, 0.5, 0.48,
  0.48, 0.5, 0.52, 0.55, 0.55, 0.56, 0.58, 0.6, 0.6, 0.56,
  0.55, 0.5, 0.5, 0.5, 0.48, 0.48, 0.5, 0.5, 0.52, 0.52,
  0.52, 0.5, 0.5, 0.52, 0.55, 0.55, 0.55, 0.52, 0.55, 0.55,
  0.5, 0.52, 0.55, 0.56, 0.55, 0.56, 0.56, 0.56, 0.55, 0.55]

// one entry per facet, in MAPS order: [mean, lower, upper] per run
const PANELS = [
  [[iac_3s5z, iac_3s5z_lo, iac_3s5z_hi], [clip_3s5z, clip_3s5z_lo, clip_3s5z_hi], [ppo_3s5z, ppo_3s5z_lo, ppo_3s5z_hi]],
  [[iac_3svs3z, iac_3svs3z_lo, iac_3svs3z_hi], [clip_3svs3z, clip_3svs3z_lo, clip_3svs3z_hi], [ppo_3svs3z, ppo_3svs3z_lo, ppo_3svs3z_hi]],
  [[iac_3m, iac_3m_lo, iac_3m_hi], [clip_3m, clip_3m_lo, clip_3m_hi], [ppo_3m, ppo_3m_lo, ppo_3m_hi]],
  [[iac_smb, iac_smb_lo, iac_smb_hi], [clip_smb, clip_smb_lo, clip_smb_hi], [ppo_smb, ppo_smb_lo, ppo_smb_hi]],
  [[iac_8m, iac_8m_lo, iac_8m_hi], [clip_8m, clip_8m_lo, clip_8m_hi], [ppo_8m, ppo_8m_lo, ppo_8m_hi]],
  [[iac_mmm, iac_mmm_lo, iac_mmm_hi], [clip_mmm, clip_mmm_lo, clip_mmm_hi], [ppo_mmm, ppo_mmm_lo, ppo_mmm_hi]],
  [[iac_bvb, iac_bvb_lo, iac_bvb_hi], [clip_bvb, clip_bvb_lo, clip_bvb_hi], [ppo_bvb, ppo_bvb_lo, ppo_bvb_hi]],
  [[iac_2s3z, iac_2s3z_lo, iac_2s3z_hi], [clip_2s3z, clip_2s3z_lo, clip_2s3z_hi], [ppo_2s3z, ppo_2s3z_lo, ppo_2s3z_hi]]
]

const COLORS = ['#4c72b0', '#dd8452', '#55a868']
const BAND_COLORS = ['rgba(76,114,176,0.2)', 'rgba(221,132,82,0.2)', 'rgba(85,168,104,0.2)']
const LEGEND_COLORS = ['#a3b5d6', '#eebfa4', '#a7d1b0']
const FONT = '"Liberation Sans", Arial, Helvetica, sans-serif'
const INK = '#262626'
const RULE = '#cccccc'

const chart = echarts.init(document.getElementById('chart'))

const grids = []
const xAxes = []
const yAxes = []
const titles = []
const series = []
const graphics = []

MAPS.forEach((mapName, f) => {
  const row = Math.floor(f / 4)
  const col = f % 4
  const left = 124 + 275 * col
  const top = row === 0 ? 45 : 303
  grids.push({ left: left, top: top, width: 255, height: 218 })

  xAxes.push({
    gridIndex: f,
    type: 'value',
    min: -0.1,
    max: 2.07,
    name: row === 1 ? 't_env' : '',
    nameLocation: 'middle',
    nameGap: 23,
    nameTextStyle: { color: INK, fontSize: 19, fontFamily: FONT },
    axisLine: { show: true, onZero: false, lineStyle: { color: RULE, width: 1.25 } },
    axisTick: { show: false, customValues: X_TICKS },
    axisLabel: {
      show: row === 1,
      customValues: X_TICKS,
      formatter: (v) => v.toFixed(1),
      color: INK,
      fontSize: 17.5,
      fontFamily: FONT,
      margin: 7
    },
    splitLine: { show: true, lineStyle: { color: RULE, width: 1 } }
  })

  yAxes.push({
    gridIndex: f,
    type: 'value',
    min: -0.05,
    max: 1.05,
    name: col === 0 ? 'test_battle_won_mean' : '',
    nameLocation: 'middle',
    nameGap: 33,
    nameTextStyle: { color: INK, fontSize: 19, fontFamily: FONT },
    axisLine: { show: true, onZero: false, lineStyle: { color: RULE, width: 1.25 } },
    axisTick: { show: false, customValues: Y_TICKS },
    axisLabel: {
      show: col === 0,
      customValues: Y_TICKS,
      formatter: (v) => v.toFixed(1),
      color: INK,
      fontSize: 17.5,
      fontFamily: FONT,
      margin: 6
    },
    splitLine: { show: true, lineStyle: { color: RULE, width: 1 } }
  })

  titles.push({
    text: 'map = ' + mapName,
    left: left + 127.5,
    top: row === 0 ? 23 : 283,
    textAlign: 'center',
    padding: 0,
    textStyle: { color: INK, fontSize: 19, fontWeight: 'normal', fontFamily: FONT }
  })

  if (row === 1) {
    graphics.push({
      type: 'text',
      x: left + 255,
      y: 553,
      style: {
        text: '1e6', fill: INK, font: '17.5px ' + FONT,
        textAlign: 'right', textVerticalAlign: 'middle', align: 'right', verticalAlign: 'middle'
      }
    })
  }

  PANELS[f].forEach(([mean, lo, hi], k) => {
    // confidence band, drawn as one polygon through the axis scales
    series.push({
      type: 'custom',
      name: RUNS[k],
      xAxisIndex: f,
      yAxisIndex: f,
      silent: true,
      data: T_ENV.map((t, i) => [t, lo[i], hi[i]]),
      encode: { x: 0, y: [1, 2] },
      renderItem: (params, api) => {
        if (params.dataIndex !== 0) return null
        const upper = T_ENV.map((t, i) => api.coord([t, hi[i]]))
        const lower = T_ENV.map((t, i) => api.coord([t, lo[i]])).reverse()
        return {
          type: 'polygon',
          shape: { points: upper.concat(lower) },
          style: { fill: BAND_COLORS[k], stroke: null }
        }
      }
    })
    series.push({
      type: 'line',
      name: RUNS[k],
      xAxisIndex: f,
      yAxisIndex: f,
      silent: true,
      symbol: 'none',
      data: T_ENV.map((t, i) => [t, mean[i]]),
      lineStyle: { color: COLORS[k], width: 1.2 },
      itemStyle: { color: COLORS[k] }
    })
  })
})

// legend, placed like the seaborn one outside the facets
graphics.push({
  type: 'text', x: 1330, y: 256,
  style: { text: 'name', fill: INK, font: '19px ' + FONT, textAlign: 'center', textVerticalAlign: 'middle', align: 'center', verticalAlign: 'middle' }
})
RUNS.forEach((run, k) => {
  const y = 282 + 24.5 * k
  graphics.push({
    type: 'line',
    shape: { x1: 1217, y1: y, x2: 1253, y2: y },
    style: { stroke: LEGEND_COLORS[k], lineWidth: 1.8 }
  })
  graphics.push({
    type: 'text', x: 1265, y: y,
    style: { text: run, fill: INK, font: '17.5px ' + FONT, textAlign: 'left', textVerticalAlign: 'middle', align: 'left', verticalAlign: 'middle' }
  })
})

chart.setOption({
  animation: false,
  backgroundColor: '#ffffff',
  textStyle: { fontFamily: FONT },
  title: titles,
  grid: grids,
  xAxis: xAxes,
  yAxis: yAxes,
  series: series,
  graphic: graphics
})
</script>
</body>
</html>
